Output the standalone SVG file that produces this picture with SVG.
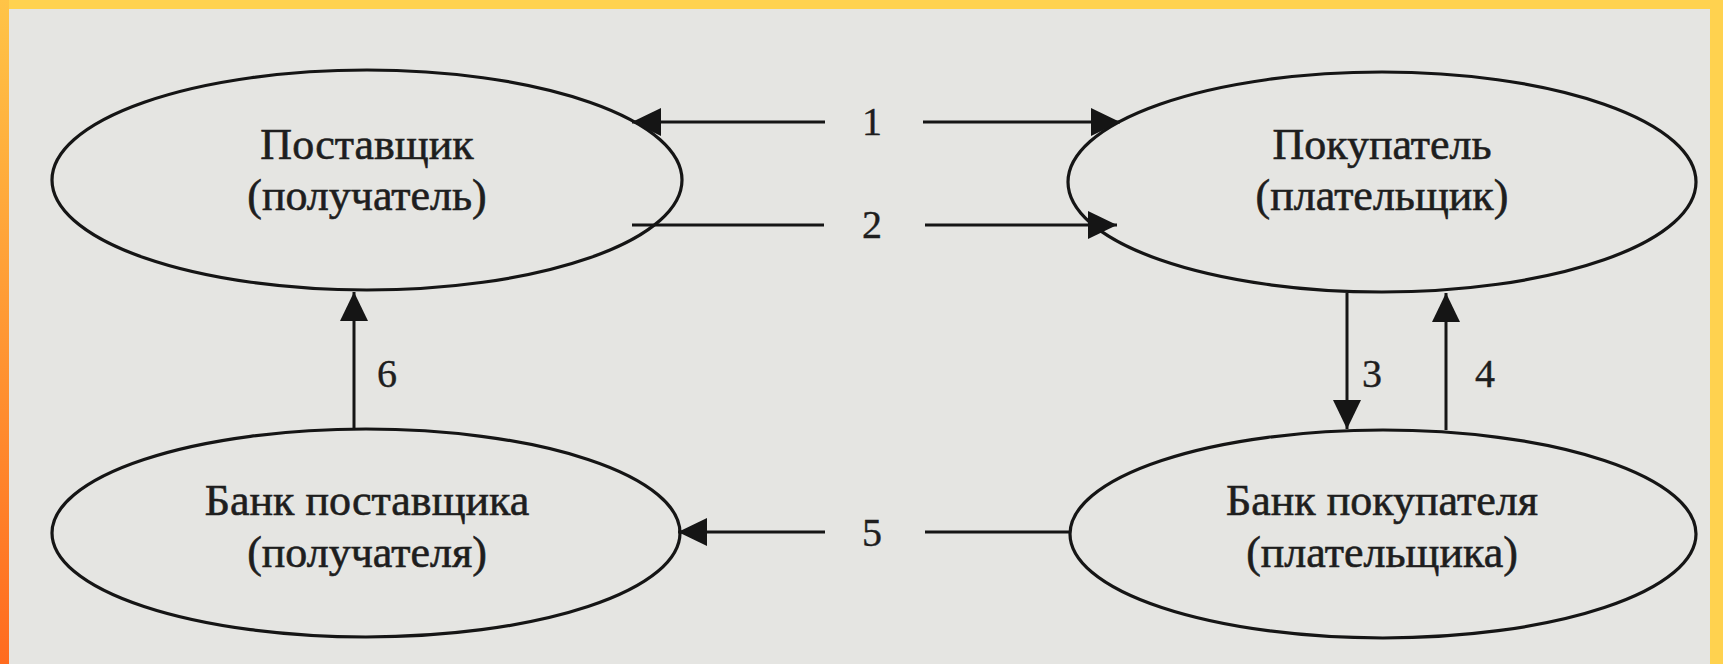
<svg xmlns="http://www.w3.org/2000/svg" width="1723" height="664" viewBox="0 0 1723 664">
  <defs>
    <linearGradient id="leftband" x1="0" y1="0" x2="0" y2="1">
      <stop offset="0" stop-color="#FFC447"/>
      <stop offset="1" stop-color="#FF6B1F"/>
    </linearGradient>
    <marker id="ah" markerUnits="userSpaceOnUse" markerWidth="30" markerHeight="30" refX="29" refY="14" orient="auto">
      <path d="M0,0 L29,14 L0,28 z" fill="#151515"/>
    </marker>
    <style>
      .node ellipse { fill: none; stroke: #151515; stroke-width: 3.2; }
      .node text { font-family: "Liberation Serif", "Times New Roman", serif; font-size: 44px; fill: #1e1e1e; stroke: #1e1e1e; stroke-width: 0.6; text-anchor: middle; }
      .conn line { stroke: #151515; stroke-width: 3; }
      .lbl { font-family: "Liberation Serif", "Times New Roman", serif; font-size: 40px; fill: #1e1e1e; stroke: #1e1e1e; stroke-width: 0.4; text-anchor: middle; }
    </style>
  </defs>

  <rect x="0" y="0" width="1723" height="664" fill="#e5e5e2"/>
  <rect x="0" y="0" width="1723" height="9" fill="#FFD24F"/>
  <rect x="1710" y="0" width="13" height="664" fill="#FFD24F"/>
  <rect x="0" y="0" width="9" height="664" fill="url(#leftband)"/>

  <g id="supplier" class="node">
    <ellipse cx="367" cy="180" rx="315" ry="110"/>
    <text x="367" y="159">Поставщик</text>
    <text x="367" y="210">(получатель)</text>
  </g>
  <g id="buyer" class="node">
    <ellipse cx="1382" cy="182" rx="314" ry="110"/>
    <text x="1382" y="159">Покупатель</text>
    <text x="1382" y="210">(плательщик)</text>
  </g>
  <g id="supplier-bank" class="node">
    <ellipse cx="366" cy="533" rx="314" ry="104"/>
    <text x="367" y="515">Банк поставщика</text>
    <text x="367" y="567">(получателя)</text>
  </g>
  <g id="buyer-bank" class="node">
    <ellipse cx="1383" cy="534" rx="313" ry="104"/>
    <text x="1382" y="515">Банк покупателя</text>
    <text x="1382" y="567">(плательщика)</text>
  </g>

  <g id="connectors" class="conn">
    <line x1="825" y1="122" x2="632" y2="122" marker-end="url(#ah)"/>
    <line x1="923" y1="122" x2="1120" y2="122" marker-end="url(#ah)"/>
    <line x1="632" y1="225" x2="824" y2="225"/>
    <line x1="925" y1="225" x2="1117" y2="225" marker-end="url(#ah)"/>
    <line x1="1347" y1="293" x2="1347" y2="429" marker-end="url(#ah)"/>
    <line x1="1446" y1="430" x2="1446" y2="293" marker-end="url(#ah)"/>
    <line x1="1070" y1="532" x2="925" y2="532"/>
    <line x1="825" y1="532" x2="678" y2="532" marker-end="url(#ah)"/>
    <line x1="354" y1="429" x2="354" y2="292" marker-end="url(#ah)"/>
    <text class="lbl" x="872" y="135">1</text>
    <text class="lbl" x="872" y="238">2</text>
    <text class="lbl" x="1372" y="387">3</text>
    <text class="lbl" x="1485" y="387">4</text>
    <text class="lbl" x="872" y="546">5</text>
    <text class="lbl" x="387" y="387">6</text>
  </g>
</svg>
